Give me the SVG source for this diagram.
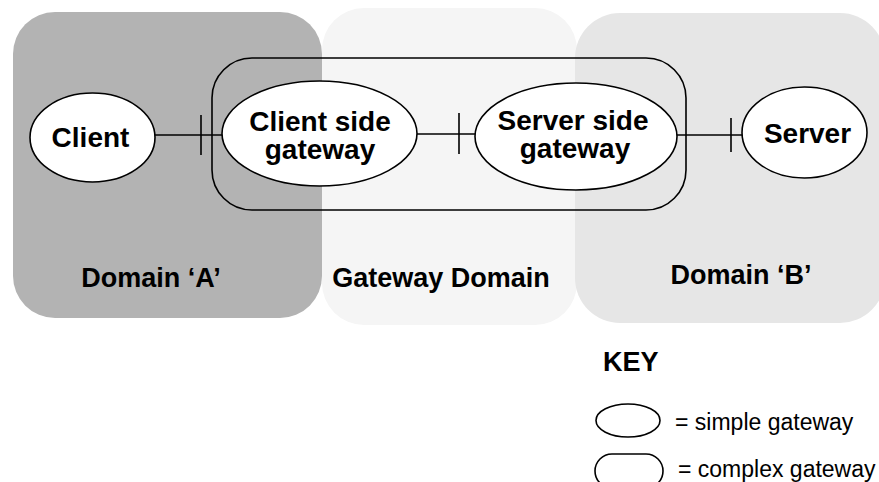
<svg xmlns="http://www.w3.org/2000/svg" width="879" height="482" viewBox="0 0 879 482">
<style>
.node{fill:#fff;stroke:#000;stroke-width:1.6}
.cplx{fill:none;stroke:#000;stroke-width:1.6}
.conn line{stroke:#000;stroke-width:1.6}
.lbl{font-family:"Liberation Sans",Arial,sans-serif;font-weight:bold;font-size:28px;fill:#000;text-anchor:middle}
.dom{font-family:"Liberation Sans",Arial,sans-serif;font-weight:bold;font-size:27px;fill:#000;text-anchor:middle}
.key{font-family:"Liberation Sans",Arial,sans-serif;font-size:23px;fill:#000}
</style>
<rect width="879" height="482" fill="#fff"/>
<g id="gateway-domain"><rect x="322" y="8" width="255" height="317" rx="42" fill="#f5f5f5"/><text class="dom" x="441" y="287" font-size="26">Gateway Domain</text></g>
<g id="domain-a"><rect x="13" y="12" width="309" height="306" rx="42" fill="#b3b3b3"/><text class="dom" x="151" y="287">Domain ‘A’</text></g>
<g id="domain-b"><rect x="575" y="13" width="310" height="310" rx="45" fill="#e6e6e6"/><text class="dom" x="741" y="284">Domain ‘B’</text></g>
<g id="complex-gateway"><rect class="cplx" x="212" y="58" width="474" height="152" rx="40"/></g>
<g class="conn" id="connectors">
<line x1="155" y1="135" x2="222" y2="135"/><line x1="201" y1="115" x2="201" y2="155"/>
<line x1="417" y1="134" x2="475" y2="134"/><line x1="459" y1="113" x2="459" y2="154"/>
<line x1="677" y1="135" x2="742" y2="135"/><line x1="731" y1="118" x2="731" y2="152"/>
</g>
<g id="client"><ellipse class="node" cx="92.5" cy="137.5" rx="62.5" ry="44.5"/><text class="lbl" x="90.5" y="147">Client</text></g>
<g id="client-side-gateway"><ellipse class="node" cx="319.5" cy="133.5" rx="97.5" ry="52.5"/><text class="lbl"><tspan x="320" y="131">Client side</tspan><tspan x="320" y="159">gateway</tspan></text></g>
<g id="server-side-gateway"><ellipse class="node" cx="576" cy="136.5" rx="101" ry="53.5"/><text class="lbl"><tspan x="573" y="130">Server side</tspan><tspan x="575" y="158">gateway</tspan></text></g>
<g id="server"><ellipse class="node" cx="804.5" cy="132.5" rx="62.5" ry="45.5"/><text class="lbl" x="807.5" y="143">Server</text></g>
<g id="key">
<text class="dom" x="603" y="371" style="text-anchor:start" font-size="26">KEY</text>
<ellipse class="node" cx="628" cy="420.5" rx="32" ry="16.5"/>
<text class="key" x="675" y="430">= simple gateway</text>
<rect class="node" x="595" y="454" width="68" height="34" rx="17"/>
<text class="key" x="678" y="477">= complex gateway</text>
</g>
</svg>
